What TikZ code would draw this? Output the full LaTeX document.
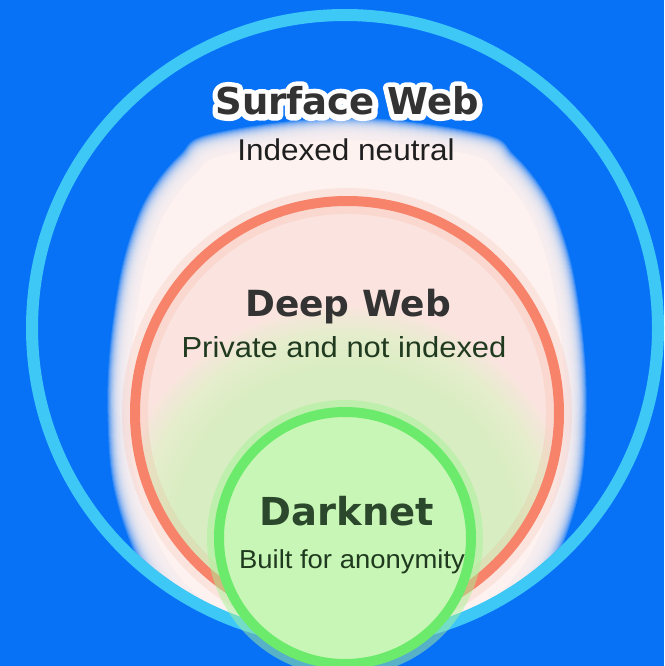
\documentclass[tikz,border=0pt]{standalone}
\usepackage{graphicx}
\usepackage{fontspec}
\setmainfont{Liberation Sans}
\newfontfamily\headfont{DejaVu Sans}
\newfontfamily\headoutline{DejaVu Sans}[UprightFont={* Bold}, FakeBold=30]
\definecolor{bgblue}{HTML}{0872F6}
\definecolor{ringblue}{HTML}{3EC8F6}
\definecolor{ringred}{HTML}{F7836A}
\definecolor{ringgreen}{HTML}{6CEA6C}
\definecolor{glowc}{HTML}{FDF2EF}
\definecolor{pinkfill}{HTML}{FBE4DF}
\definecolor{greenfill}{HTML}{C8F6B6}
\definecolor{greenhalo}{HTML}{D8FAC2}
\definecolor{greenglow}{HTML}{A8F29A}
\definecolor{headgrey}{HTML}{333333}
\definecolor{darkgreen}{HTML}{2C482C}
\definecolor{subgreen}{HTML}{1F3A1F}
\tikzset{
  headtxt/.style={anchor=base, inner sep=0pt, text=headgrey},
  subtxt/.style={anchor=base, inner sep=0pt, text=black!88},
  hsize/.style={font=\headfont\bfseries\fontsize{#1}{#1}\selectfont},
  ssize/.style={font=\fontsize{#1}{#1}\selectfont},
}
\newcommand\glowshape{plot[smooth cycle, tension=0.6] coordinates {
  (0,-225) (125,-210) (155,-190) (180,-160) (196,-128) (210,-80)
  (220,-10) (222,53) (216,120) (193,187) (158,236) (112,266) (0,285)
  (-112,266) (-158,236) (-193,187) (-216,120) (-222,53) (-220,-10)
  (-210,-80) (-196,-128) (-180,-160) (-155,-190) (-125,-210)}}
\begin{document}
\begin{tikzpicture}[x=1pt,y=-1pt]
\useasboundingbox (0,0) rectangle (664,666);
\fill[bgblue] (0,0) rectangle (664,666);
% soft glow around the deep web (stacked translucent layers)
\begin{scope}
  \clip (345,328) circle[radius=307];
  \foreach \d in {18,17,...,-4} {
    \fill[glowc, opacity=0.18, shift={(347,360)}, scale={1+\d/230}] \glowshape;
  }
  \fill[glowc, shift={(347,360)}, scale={1-5/230}] \glowshape;
\end{scope}
% deep web interior
\fill[pinkfill] (347,413) circle[radius=212];
\begin{scope}
  \clip (347,413) circle[radius=212];
  \foreach \d in {105,102,...,0} {
    \fill[greenhalo, opacity=0.075] (345,538) circle[radius=126+\d];
  }
\end{scope}
\draw[ringred, opacity=0.12, line width=26pt] (347,413) circle[radius=212];
\draw[ringred, line width=10pt] (347,413) circle[radius=212];
% surface web ring
\draw[ringblue, line width=12pt] (345,328) circle[radius=313];
% darknet
\draw[greenglow, opacity=0.5, line width=24pt] (345,538) circle[radius=126];
\fill[greenfill] (345,538) circle[radius=126];
\draw[ringgreen, line width=10pt] (345,538) circle[radius=126];
% texts
\node[anchor=base, inner sep=0pt, text=white, line join=round, font=\headoutline\fontsize{37}{37}\selectfont] (swo) at (347,115) {\pgfsetroundjoin Surface Web};
\node[headtxt, hsize=37] (sw) at (347,115) {Surface Web};
\node[subtxt, ssize=30] (swsub) at (346,160) {\scalebox{1.05}[1]{Indexed neutral}};
\node[headtxt, hsize=36] (dw) at (348,316) {Deep Web};
\node[subtxt, ssize=29, text=subgreen] (dwsub) at (344,357) {\scalebox{1.066}[1]{Private and not indexed}};
\node[headtxt, hsize=38.5, text=darkgreen] (dn) at (347,525) {Darknet};
\node[subtxt, ssize=26, text=subgreen] (dnsub) at (352,568) {\scalebox{1.056}[1]{Built for anonymity}};
\end{tikzpicture}
\end{document}
